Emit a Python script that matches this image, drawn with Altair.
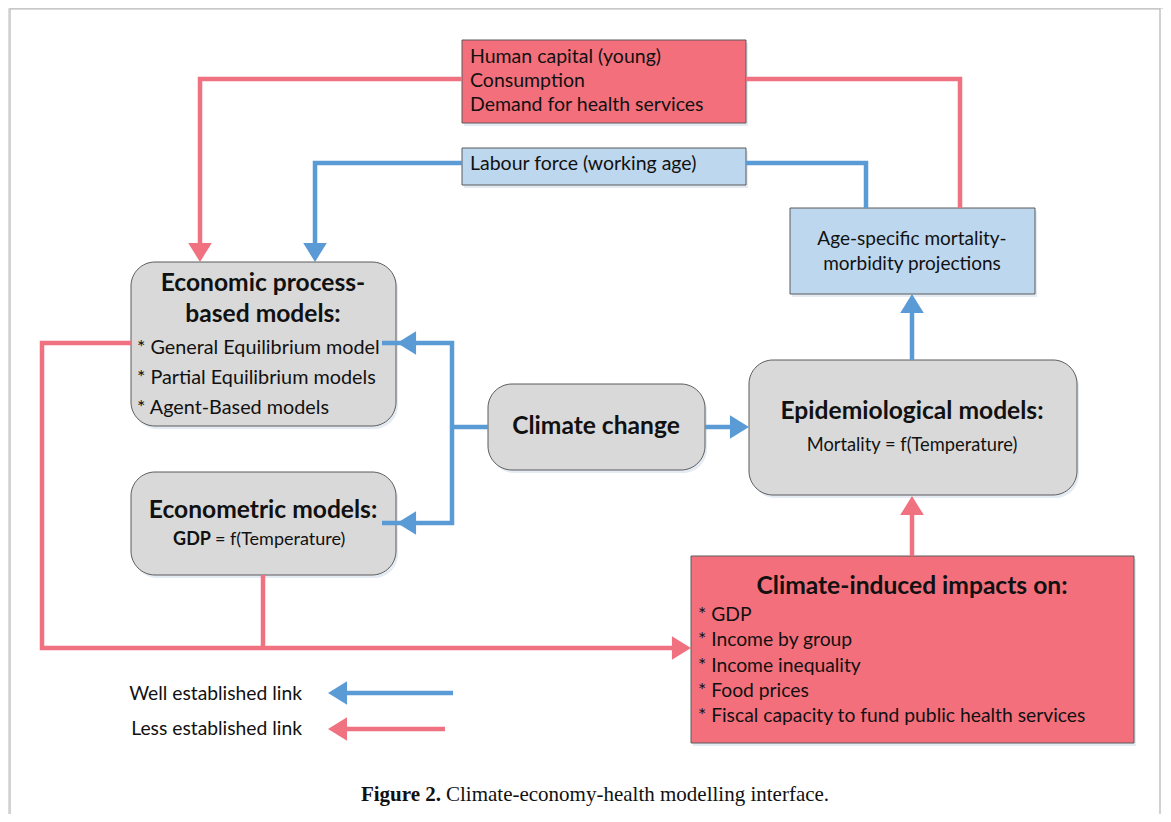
import altair as alt
import pandas as pd

# ---------------- data ----------------
W, H = 1155, 806
RED_FILL = "#f46f7c"
BLUE_FILL = "#bdd7ee"
GRAY_FILL = "#d9d9d9"
RED_LINE = "#f07280"
BLUE_LINE = "#5b9bd5"

# boxes: name, x0, x1, y0, y1, fill, rounded
box_names = ["econ", "econometric", "climate", "epi", "human", "labour", "age", "impacts"]
box_x0 = [131, 131, 488, 749, 462, 462, 790, 691]
box_x1 = [396, 396, 705, 1077, 746, 746, 1035, 1134]
box_y0 = [262, 472, 384, 360, 40, 148, 208, 556]
box_y1 = [426, 575, 470, 495, 123, 185, 294, 743]
box_fill = [GRAY_FILL, GRAY_FILL, GRAY_FILL, GRAY_FILL, RED_FILL, BLUE_FILL, BLUE_FILL, RED_FILL]
box_round = [True, True, True, True, False, False, False, False]

# connector polylines (id, colour, points)
conn_ids = ["r1", "b1", "r2", "b2", "b3", "b4", "b5", "b6", "r3", "r4", "r5", "lb", "lr"]
conn_col = [RED_LINE, BLUE_LINE, RED_LINE, BLUE_LINE, BLUE_LINE, BLUE_LINE, BLUE_LINE,
            BLUE_LINE, RED_LINE, RED_LINE, RED_LINE, BLUE_LINE, RED_LINE]
conn_pts = [
    [(462, 79), (200, 79), (200, 246)],
    [(462, 163), (315, 163), (315, 246)],
    [(746, 79), (960, 79), (960, 208)],
    [(746, 163), (866, 163), (866, 208)],
    [(382, 343), (452, 343), (452, 523), (382, 523)],
    [(488, 427), (452, 427)],
    [(705, 427), (733, 427)],
    [(912, 360), (912, 310)],
    [(912, 556), (912, 512)],
    [(131, 343), (42, 343), (42, 648), (675, 648)],
    [(263, 575), (263, 648)],
    [(453, 693), (344, 693)],
    [(445, 729), (344, 729)],
]

# arrow heads: tip x, tip y, angle (0 = pointing right), colour
head_x = [200, 315, 397, 397, 749, 912, 912, 691, 328, 328]
head_y = [262, 262, 343, 523, 427, 294, 496, 648, 693, 729]
head_ang = [90, 90, 180, 180, 0, 270, 270, 0, 180, 180]
head_col = [RED_LINE, BLUE_LINE, BLUE_LINE, BLUE_LINE, BLUE_LINE, BLUE_LINE,
            RED_LINE, RED_LINE, BLUE_LINE, RED_LINE]

# text groups
txt_top = ["Human capital (young)", "Consumption", "Demand for health services",
           "Labour force (working age)"]
txt_top_x = [470, 470, 470, 470]
txt_top_y = [57, 81, 105, 164]

txt_econ = ["* General Equilibrium model", "* Partial Equilibrium models", "* Agent-Based models"]
txt_econ_x = [137, 137, 137]
txt_econ_y = [348, 378, 408]

txt_items = ["* GDP", "* Income by group", "* Income inequality", "* Food prices",
             "* Fiscal capacity to fund public health services"]
txt_items_x = [698, 698, 698, 698, 698]
txt_items_y = [615, 640, 666, 691, 716]

txt_age = ["Age-specific mortality-", "morbidity projections"]
txt_age_x = [912, 912]
txt_age_y = [239, 264]

txt_mort = ["Mortality = f(Temperature)"]
txt_mort_x = [912]
txt_mort_y = [446]

txt_bold = ["Economic process-", "based models:", "Econometric models:", "Climate change",
            "Epidemiological models:", "Climate-induced impacts on:"]
txt_bold_x = [263, 263, 263, 596, 912, 912]
txt_bold_y = [284, 315, 511, 427, 412, 587]

txt_gdp_b = ["GDP"]
txt_gdp_b_x = [211]
txt_gdp_b_y = [540]
txt_gdp_r = ["= f(Temperature)"]
txt_gdp_r_x = [215]
txt_gdp_r_y = [540]

txt_legend = ["Well established link", "Less established link"]
txt_legend_x = [302, 302]
txt_legend_y = [694, 729]

cap_bold = ["Figure 2."]
cap_bold_x = [441]
cap_rest = ["Climate-economy-health modelling interface."]
cap_rest_x = [446]
cap_y = [795]

# frame
frame_x = [10, 10, 1160, 1160]
frame_y = [830, 9, 9, 830]

# ---------------- chart ----------------
XS = alt.Scale(domain=[8, 8 + W], nice=False, zero=False)
YS = alt.Scale(domain=[8, 8 + H], reverse=True, nice=False, zero=False)


def X(f):
    return alt.X(f, type="quantitative", scale=XS, axis=None)


def Y(f):
    return alt.Y(f, type="quantitative", scale=YS, axis=None)


layers = []

# frame
frame_df = pd.DataFrame({"x": frame_x, "y": frame_y, "o": list(range(4))})
layers.append(alt.Chart(frame_df).mark_line(color="#b3b3b3", strokeWidth=1.2, clip=True).encode(
    x=X("x"), y=Y("y"), order=alt.Order("o:Q")))

boxes = pd.DataFrame({"name": box_names, "x0": box_x0, "x1": box_x1, "y0": box_y0,
                      "y1": box_y1, "fill": box_fill, "round": box_round})

# soft shadows
shadow = boxes.copy()
shadow["x0"] = shadow["x0"] + 2
shadow["x1"] = shadow["x1"] + 2
shadow["y0"] = shadow["y0"] + 3
shadow["y1"] = shadow["y1"] + 3
for rnd, cr in [(True, 24), (False, 0)]:
    d = shadow[shadow["round"] == rnd]
    layers.append(alt.Chart(d).mark_rect(cornerRadius=cr, color="#dfe6f0", opacity=0.8).encode(
        x=X("x0"), x2=alt.X2("x1"), y=Y("y0"), y2=alt.Y2("y1")))

for rnd, cr in [(True, 24), (False, 0)]:
    d = boxes[boxes["round"] == rnd]
    layers.append(alt.Chart(d).mark_rect(cornerRadius=cr, stroke="#5a5a5a", strokeWidth=1).encode(
        x=X("x0"), x2=alt.X2("x1"), y=Y("y0"), y2=alt.Y2("y1"),
        fill=alt.Fill("fill:N", scale=None)))

# connectors
rows = []
for cid, col, pts in zip(conn_ids, conn_col, conn_pts):
    for i, (px, py) in enumerate(pts):
        rows.append({"id": cid, "col": col, "o": i, "x": px, "y": py})
conn_df = pd.DataFrame(rows)
layers.append(alt.Chart(conn_df).mark_line(strokeWidth=4.5, strokeJoin="miter", strokeCap="butt").encode(
    x=X("x"), y=Y("y"), detail="id:N", order=alt.Order("o:Q"),
    color=alt.Color("col:N", scale=None)))

# arrow heads
heads = pd.DataFrame({"x": head_x, "y": head_y, "ang": head_ang, "col": head_col})
layers.append(alt.Chart(heads).mark_point(
    shape="M0,0L-1,-0.62L-1,0.62Z", filled=True, size=1450, opacity=1, strokeWidth=0).encode(
    x=X("x"), y=Y("y"), angle=alt.Angle("ang:Q", scale=None),
    color=alt.Color("col:N", scale=None)))

FONT = "Lato"


def text_layer(texts, xs, ys, size, weight, align, font=FONT):
    df = pd.DataFrame({"t": texts, "x": xs, "y": ys})
    return alt.Chart(df).mark_text(fontSize=size, fontWeight=weight, align=align,
                                   baseline="middle", font=font, color="#111111").encode(
        x=X("x"), y=Y("y"), text="t:N")


layers.append(text_layer(txt_top, txt_top_x, txt_top_y, 19.5, "normal", "left"))
layers.append(text_layer(txt_econ, txt_econ_x, txt_econ_y, 19.8, "normal", "left"))
layers.append(text_layer(txt_items, txt_items_x, txt_items_y, 19.3, "normal", "left"))
layers.append(text_layer(txt_age, txt_age_x, txt_age_y, 19, "normal", "center"))
layers.append(text_layer(txt_mort, txt_mort_x, txt_mort_y, 18.3, "normal", "center"))
layers.append(text_layer(txt_bold, txt_bold_x, txt_bold_y, 24.6, "bold", "center"))
layers.append(text_layer(txt_gdp_b, txt_gdp_b_x, txt_gdp_b_y, 18, "bold", "right"))
layers.append(text_layer(txt_gdp_r, txt_gdp_r_x, txt_gdp_r_y, 18, "normal", "left"))
layers.append(text_layer(txt_legend, txt_legend_x, txt_legend_y, 19.3, "normal", "right"))
layers.append(text_layer(cap_bold, cap_bold_x, cap_y, 21, "bold", "right", "Liberation Serif"))
layers.append(text_layer(cap_rest, cap_rest_x, cap_y, 21, "normal", "left", "Liberation Serif"))

chart = alt.layer(*layers).properties(
    width=W, height=H, padding=0, autosize=alt.AutoSizeParams(type="none")
).configure_view(strokeWidth=0).configure(background="white")

chart.save("out.html", embed_options={"renderer": "svg", "actions": False})
